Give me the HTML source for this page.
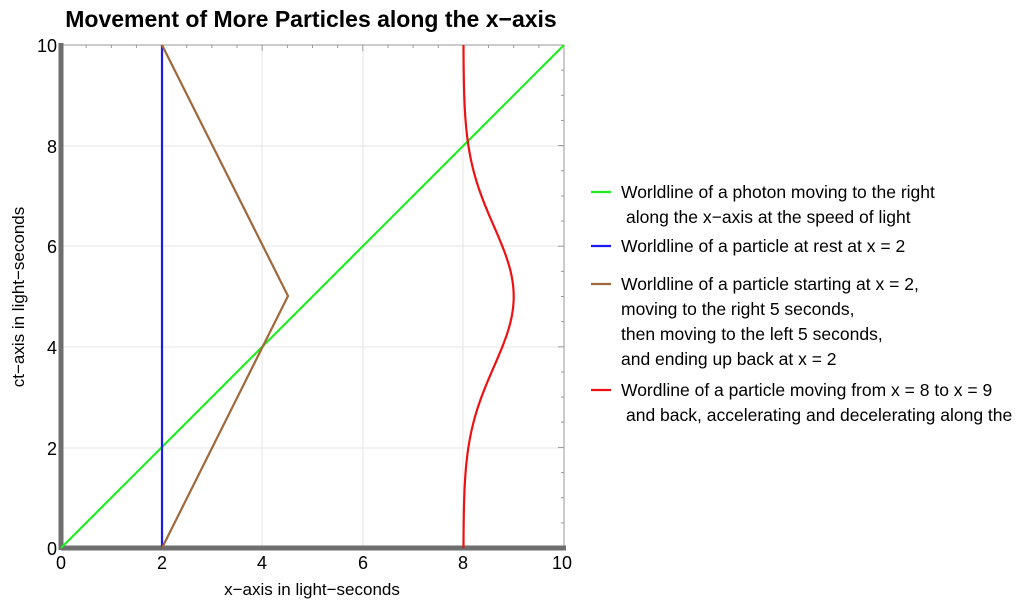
<!DOCTYPE html>
<html><head><meta charset="utf-8"><style>
body{margin:0;background:#fff;width:1023px;height:608px;overflow:hidden}
svg{font-family:"Liberation Sans",Arial,sans-serif}
</style></head><body>
<svg width="1023" height="608" viewBox="0 0 1023 608">
<text x="311" y="27" font-size="23" font-weight="bold" text-anchor="middle">Movement of More Particles along the x−axis</text>
<g stroke="#e6e6e6" stroke-width="1">
<line x1="162" y1="45" x2="162" y2="548"/><line x1="262" y1="45" x2="262" y2="548"/><line x1="363" y1="45" x2="363" y2="548"/><line x1="463" y1="45" x2="463" y2="548"/>
<line x1="61" y1="448" x2="564" y2="448"/><line x1="61" y1="347" x2="564" y2="347"/><line x1="61" y1="246" x2="564" y2="246"/><line x1="61" y1="146" x2="564" y2="146"/>
</g>
<rect x="61" y="45" width="503" height="503" fill="none" stroke="#999" stroke-width="1"/>
<g id="ticks" stroke="#999" stroke-width="1"></g>
<line x1="61" y1="548" x2="566" y2="548" stroke="#6e6e6e" stroke-width="5"/>
<line x1="61" y1="43" x2="61" y2="550" stroke="#6e6e6e" stroke-width="5"/>
<line x1="61" y1="548" x2="564" y2="45" stroke="#22ee22" stroke-width="2.2"/>
<line x1="162" y1="548" x2="162" y2="45" stroke="#1a1aee" stroke-width="2.2"/>
<polyline points="162,548 288,296 162,45" fill="none" stroke="#a0683a" stroke-width="2.2"/>
<path id="red" fill="none" stroke="#ee1111" stroke-width="2.2"/>
<g font-size="18" text-anchor="middle">
<text x="61" y="569">0</text><text x="162" y="569">2</text><text x="262" y="569">4</text><text x="363" y="569">6</text><text x="463" y="569">8</text><text x="562" y="569">10</text>
</g>
<g font-size="18" text-anchor="end">
<text x="57" y="555">0</text><text x="57" y="455">2</text><text x="57" y="354">4</text><text x="57" y="253">6</text><text x="57" y="153">8</text><text x="57" y="52">10</text>
</g>
<text x="312" y="595" font-size="17" text-anchor="middle">x−axis in light−seconds</text>
<text transform="translate(24,297) rotate(-90)" font-size="17" text-anchor="middle">ct−axis in light−seconds</text>
<g stroke-width="2.2">
<line x1="591" y1="192" x2="611" y2="192" stroke="#22ee22"/>
<line x1="591" y1="246" x2="611" y2="246" stroke="#1a1aee"/>
<line x1="591" y1="284" x2="611" y2="284" stroke="#a0683a"/>
<line x1="591" y1="390" x2="611" y2="390" stroke="#ee1111"/>
</g>
<g font-size="17.5">
<text x="621" y="198">Worldline of a photon moving to the right</text>
<text x="626" y="223">along the x−axis at the speed of light</text>
<text x="621" y="252">Worldline of a particle at rest at x = 2</text>
<text x="621" y="290">Worldline of a particle starting at x = 2,</text>
<text x="621" y="315">moving to the right 5 seconds,</text>
<text x="621" y="340">then moving to the left 5 seconds,</text>
<text x="621" y="365">and ending up back at x = 2</text>
<text x="621" y="396">Wordline of a particle moving from x = 8 to x = 9</text>
<text x="626" y="421">and back, accelerating and decelerating along the</text>
</g>
</svg>
<script>
var d="";for(var i=0;i<=200;i++){var t=i/20;var x=8+Math.exp(-(t-5)*(t-5)/3.9);var px=61+x*50.3,py=548-t*50.3;d+=(i?"L":"M")+px.toFixed(2)+","+py.toFixed(2);}
document.getElementById("red").setAttribute("d",d);
var g=document.getElementById("ticks"),s="";
for(var k=1;k<20;k++){var v=k/2,p=61+v*50.3,q=548-v*50.3,L=(k%4==0)?6:3;
s+='<line x1="'+p+'" y1="45" x2="'+p+'" y2="'+(45+L)+'"/><line x1="564" y1="'+q+'" x2="'+(564-L)+'" y2="'+q+'"/>';}
g.innerHTML=s;
</script>
</body></html>
